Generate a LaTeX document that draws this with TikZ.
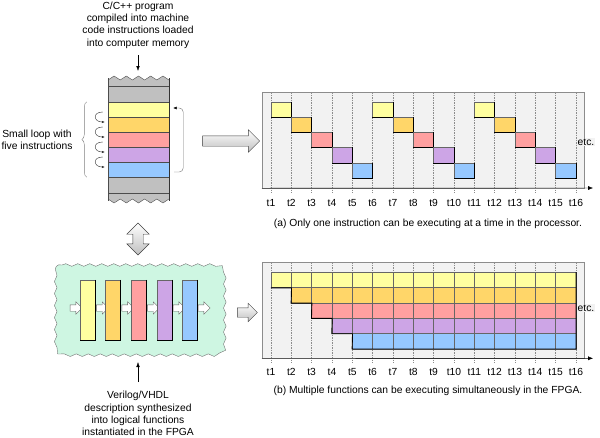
\documentclass[tikz,border=0pt]{standalone}
\usepackage{fontspec}
\setmainfont{Liberation Sans}
\usetikzlibrary{positioning,shapes.arrows,arrows.meta,decorations.pathmorphing,decorations.pathreplacing}
\definecolor{insA}{RGB}{255,255,160}
\definecolor{insB}{RGB}{255,214,105}
\definecolor{insC}{RGB}{255,160,160}
\definecolor{insD}{RGB}{205,165,230}
\definecolor{insE}{RGB}{150,200,255}
\definecolor{memgray}{RGB}{192,192,192}
\definecolor{fpgagreen}{RGB}{206,246,226}
\definecolor{chartbg}{RGB}{242,242,242}
\tikzset{
  lbl/.style={font=\fontsize{10.3}{12.3}\selectfont, align=center, inner sep=1pt},
  memrow/.style={draw=black!70, minimum width=61pt, minimum height=15pt, inner sep=0pt},
  cell/.style={draw=black!60, minimum width=20.33pt, minimum height=15.3pt, inner sep=0pt},
  shadeline/.style={black, line width=0.9pt},
  frame/.style={draw=black!45, fill=chartbg, inner sep=0pt},
  grid/.style={black!45, dashed, dash pattern=on 1.5pt off 1pt},
  hollow/.style={single arrow, draw=black!75, top color=white, bottom color=black!25,
    inner sep=5pt, single arrow head extend=6pt, single arrow head indent=0pt},
  pointer/.style={-{Latex[length=5pt,width=3.5pt]}, black}
}
\begin{document}
\begin{tikzpicture}[x=1pt,y=-1pt,
    bar/.style={draw=black!60, minimum width=15pt, minimum height=60pt, inner sep=0pt},
    fpga/.style={draw=black!55, fill=fpgagreen, decorate,
      decoration={snake, segment length=12pt, amplitude=1.3pt}}]
\useasboundingbox (0,0) rectangle (600,437);

% processor side
\node[lbl] (src) at (138,25) {C/C++ program\\compiled into machine\\code instructions loaded\\into computer memory};
\coordinate (memtop) at (138,71);
\draw[pointer] ([yshift=-6pt]src.south) -- (memtop);

\fill[memgray] (108,80) \foreach \i in {1,...,10} {-- ({108+6.1*\i},{80-4*mod(\i,2)})}
  -- (169,199) \foreach \i in {1,...,10} {-- ({169-6.1*\i},{199+4*mod(\i,2)})} -- cycle;
\draw[black!70] (108,80) \foreach \i in {1,...,10} {-- ({108+6.1*\i},{80-4*mod(\i,2)})};
\draw[black!70] (169,199) \foreach \i in {1,...,10} {-- ({169-6.1*\i},{199+4*mod(\i,2)})};
\draw[black!70] (108,78) -- (108,201) (108,86) -- (169,86) (108,193) -- (169,193);
\foreach \c [count=\i] in {insA,insB,insC,insD,insE}
  \node[memrow, fill=\c] (m\i) at (138.5,{94.5+15*\i}) {};
\draw[black!80, line width=1pt] (169,78) -- (169,201);

\foreach \i [evaluate=\i as \j using int(\i+1)] in {1,...,4}
  \draw[-{Latex[length=3pt,width=2.5pt]}, black!80]
    ([xshift=-5pt,yshift=-2.5pt]m\i.west) .. controls +(-11,0) and +(-11,0) .. ([xshift=-3pt,yshift=2.5pt]m\j.west);
\draw[black!50, decorate, decoration={brace, amplitude=5pt}]
  ([xshift=-21pt]m5.south west) -- ([xshift=-21pt]m1.north west);
\node[lbl] (loopnote) at (37,139.5) {Small loop with\\five instructions};
\draw[black!55, rounded corners=4pt, -{Latex[length=3.5pt,width=3pt,black]}]
  ([xshift=5pt,yshift=-2.5pt]m5.east) -| ([xshift=14pt,yshift=1.5pt]m1.east) -- ([xshift=4pt,yshift=1.5pt]m1.east);

\node[hollow, minimum height=57pt] (toA) at (228.5,141) {};
\node[double arrow, draw=black!75, top color=white, bottom color=black!25, inner sep=5pt,
  shape border rotate=90, double arrow head extend=6pt, double arrow head indent=0pt,
  minimum height=32pt] (swap) at (138,239) {};

% fpga side
\draw[fpga] (62,265) -- (213,265) arc (-90:0:9) -- (222,346) arc (0:90:9)
  -- (62,355) arc (90:180:9) -- (53,274) arc (180:270:9) -- cycle;
\node[minimum width=169pt, minimum height=90pt] (fpga) at (137.5,310) {};
\foreach \x [count=\i] in {74.5,100.8,126.2,151.8,177.5,202.5}
  \node[single arrow, draw=black!60, fill=white, inner sep=3pt, single arrow head extend=3pt,
    single arrow head indent=0pt, minimum height=12pt] (fa\i) at (\x,308) {};
\foreach \c [count=\i] in {insA,insB,insC,insD,insE} {
  \node[bar, fill=\c] (fb\i) at ({87.5+25.6*(\i-1)},310) {};
  \draw[shadeline] (fb\i.north east) -- (fb\i.south east) -- (fb\i.south west);
}
\node[lbl] (vnote) at (138,413.5) {Verilog/VHDL\\description synthesized\\into logical functions\\instantiated in the FPGA};
\coordinate (fpgain) at (138,362);
\draw[pointer] ([yshift=8pt]vnote.north) -- (fpgain);
\node[hollow, minimum height=20pt, inner sep=4.5pt, single arrow head extend=4.5pt] (toB) at (245,312.5) {};

% chart (a)
\node[frame, minimum width=322pt, minimum height=96pt] (frameA) at (423,140) {};
\coordinate (axA) at (593,188);
\foreach \i in {1,...,16} {
  \pgfmathsetmacro\x{271+(\i-1)*20.33}
  \draw[grid] (\x,92) -- (\x,193);
  \node[lbl] (ta\i) at (\x,203) {t\i};
}
\draw[-{Latex[length=5pt,width=4pt]}] (frameA.south west) -- (axA);
\foreach \c [count=\r from 0] in {insA,insB,insC,insD,insE}
  \foreach \g in {0,1,2} {
    \node[cell, fill=\c] (a\g-\r) at ({281.17+(\g*5+\r)*20.33},{109.35+\r*15.3}) {};
    \draw[shadeline] (a\g-\r.north east) -- (a\g-\r.south east) -- (a\g-\r.south west);
  }
\node[lbl, fill=chartbg] (etcA) at (586,142) {etc.};
\node[lbl] (capA) at (428,224) {(a) Only one instruction can be executing at a time in the processor.};

% chart (b)
\node[frame, minimum width=322pt, minimum height=96.6pt] (frameB) at (423,310) {};
\coordinate (axB) at (593,358.3);
\foreach \i in {1,...,16} {
  \pgfmathsetmacro\x{271+(\i-1)*20.33}
  \draw[grid] (\x,262) -- (\x,363);
  \node[lbl] (tb\i) at (\x,372) {t\i};
}
\draw[-{Latex[length=5pt,width=4pt]}] (frameB.south west) -- (axB);
\foreach \c [count=\r from 0] in {insA,insB,insC,insD,insE}
  \foreach \k in {\r,...,14}
    \node[cell, fill=\c] (b\r-\k) at ({281.17+\k*20.33},{279.95+\r*15.3}) {};
\draw[shadeline] (b0-0.south west) -- (b0-0.south east) -- (b1-1.south west) -- (b1-1.south east)
  -- (b2-2.south west) -- (b2-2.south east) -- (b3-3.south west) -- (b3-3.south east)
  -- (b4-4.south west) -- (b4-14.south east) -- (b0-14.north east);
\node[lbl, fill=chartbg] (etcB) at (586,308) {etc.};
\node[lbl] (capB) at (428,391) {(b) Multiple functions can be executing simultaneously in the FPGA.};
\end{tikzpicture}
\end{document}
